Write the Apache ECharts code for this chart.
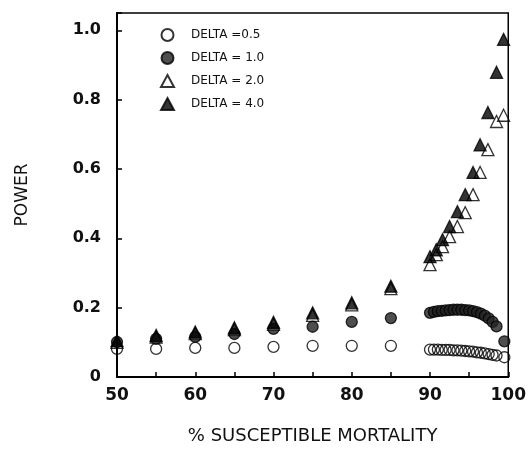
<!DOCTYPE html>
<html>
<head>
<meta charset="utf-8">
<style>
html, body { margin: 0; padding: 0; background: #fff; }
#chart { width: 529px; height: 451px; }
</style>
<script src="https://cdn.jsdelivr.net/npm/echarts@6/dist/echarts.min.js"></script>
</head>
<body>
<div id="chart"></div>
<script>
// % susceptible mortality
var xLow = [50, 55, 60, 65, 70, 75, 80, 85];
var xCircHigh = [90, 90.5, 91, 91.5, 92, 92.5, 93, 93.5, 94, 94.5, 95, 95.5, 96, 96.5, 97, 97.5, 98, 98.5, 99.5];
var xTriHigh = [90, 90.8, 91.6, 92.5, 93.5, 94.5, 95.5, 96.4, 97.4, 98.5, 99.4];

// power
var d05Low = [0.081, 0.081, 0.084, 0.084, 0.087, 0.09, 0.09, 0.09];
var d05High = [0.079, 0.079, 0.079, 0.078, 0.078, 0.078, 0.077, 0.077, 0.076, 0.075, 0.074, 0.073, 0.071, 0.07, 0.068, 0.066, 0.064, 0.062, 0.057];
var d1Low = [0.101, 0.11, 0.116, 0.124, 0.139, 0.145, 0.159, 0.17];
var d1High = [0.185, 0.188, 0.19, 0.191, 0.192, 0.193, 0.194, 0.194, 0.194, 0.193, 0.192, 0.19, 0.187, 0.183, 0.177, 0.169, 0.159, 0.146, 0.103];
var d2Low = [0.1, 0.115, 0.125, 0.137, 0.152, 0.178, 0.208, 0.255];
var d2High = [0.324, 0.353, 0.376, 0.405, 0.434, 0.474, 0.526, 0.59, 0.656, 0.737, 0.755];
var d4Low = [0.105, 0.12, 0.13, 0.142, 0.158, 0.185, 0.214, 0.262];
var d4High = [0.347, 0.367, 0.396, 0.434, 0.477, 0.526, 0.59, 0.67, 0.763, 0.879, 0.974];

var names = ['DELTA =0.5', 'DELTA = 1.0', 'DELTA = 2.0', 'DELTA = 4.0'];
var yTicks = ['0', '0.2', '0.4', '0.6', '0.8', '1.0'];
var xTicks = ['50', '60', '70', '80', '90', '100'];

function pairs(xa, ya, xb, yb) {
    var out = [];
    for (var i = 0; i < xa.length; i++) out.push([xa[i], ya[i]]);
    for (var j = 0; j < xb.length; j++) out.push([xb[j], yb[j]]);
    return out;
}

var font = 'DejaVu Sans';
var chart = echarts.init(document.getElementById('chart'));

function ser(name, symbol, size, fill, z, data) {
    return {
        name: name,
        type: 'scatter',
        symbol: symbol,
        symbolSize: size,
        z: z,
        itemStyle: { color: fill, borderColor: '#000', borderWidth: 1.3 },
        data: data
    };
}

var option = {
    backgroundColor: '#fff',
    animation: false,
    grid: {
        left: 117, right: 20, top: 13, bottom: 74,
        show: true, borderColor: '#000', borderWidth: 1.5
    },
    legend: {
        data: names,
        orient: 'vertical',
        left: 155, top: 23,
        itemWidth: 13, itemHeight: 12,
        itemGap: 9,
        textStyle: { fontFamily: font, fontSize: 12, color: '#111', padding: [0, 0, 0, 12] }
    },
    xAxis: {
        type: 'value',
        min: 50, max: 100, interval: 5,
        name: '% SUSCEPTIBLE MORTALITY',
        nameLocation: 'middle',
        nameGap: 50,
        nameTextStyle: { fontFamily: font, fontSize: 18, color: '#111' },
        axisLine: { lineStyle: { color: '#000', width: 2 } },
        axisTick: { inside: true, length: 5, lineStyle: { color: '#000', width: 1.5 } },
        splitLine: { show: false },
        axisLabel: {
            margin: 10,
            fontFamily: font, fontSize: 17, fontWeight: 'bold', color: '#111',
            formatter: function(v) {
                var i = xTicks.indexOf(String(v));
                return i >= 0 ? xTicks[i] : '';
            }
        }
    },
    yAxis: {
        type: 'value',
        min: 0, max: 1.05, interval: 0.2,
        name: 'POWER',
        nameLocation: 'middle',
        nameGap: 86,
        nameTextStyle: { fontFamily: font, fontSize: 17, color: '#111' },
        axisLine: { lineStyle: { color: '#000', width: 2 } },
        axisTick: { inside: true, length: 5, lineStyle: { color: '#000', width: 1.5 } },
        splitLine: { show: false },
        axisLabel: {
            margin: 16,
            fontFamily: font, fontSize: 16, fontWeight: 'bold', color: '#111',
            formatter: function(v) {
                var k = Math.round(v * 5);
                if (Math.abs(v * 5 - k) > 1e-6) return '';
                return yTicks[k] || '';
            }
        }
    },
    series: [
        ser(names[0], 'circle', 11, 'rgba(255,255,255,0)', 1, pairs(xLow, d05Low, xCircHigh, d05High)),
        ser(names[2], 'triangle', 12, 'rgba(255,255,255,0)', 2, pairs(xLow, d2Low, xTriHigh, d2High)),
        ser(names[1], 'circle', 11, '#222', 3, pairs(xLow, d1Low, xCircHigh, d1High)),
        ser(names[3], 'triangle', 12, '#000', 4, pairs(xLow, d4Low, xTriHigh, d4High))
    ]
};
chart.setOption(option);
</script>
</body>
</html>
